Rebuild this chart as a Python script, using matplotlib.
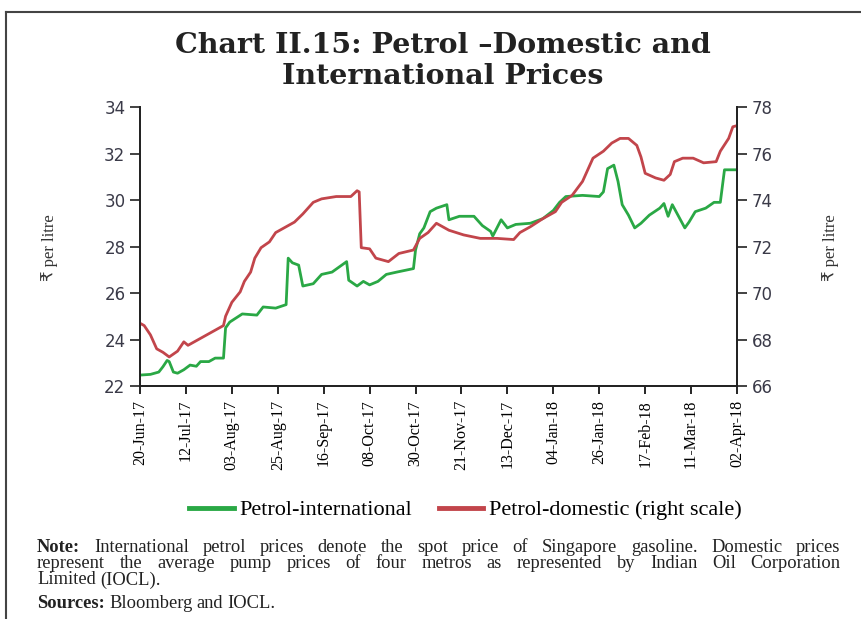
import pandas as pd
import matplotlib.pyplot as plt
import matplotlib.dates as mdates
from matplotlib.lines import Line2D

# Petrol-international (left scale, Rs per litre)
intl_dates = ['2017-06-20', '2017-06-25', '2017-06-29', '2017-07-01', '2017-07-03', '2017-07-04',
              '2017-07-06', '2017-07-08', '2017-07-11', '2017-07-14', '2017-07-17', '2017-07-19',
              '2017-07-23', '2017-07-26', '2017-07-30', '2017-07-31', '2017-08-02', '2017-08-08',
              '2017-08-15', '2017-08-18', '2017-08-24', '2017-08-29', '2017-08-30', '2017-09-01',
              '2017-09-04', '2017-09-06', '2017-09-11', '2017-09-15', '2017-09-20', '2017-09-27',
              '2017-09-28', '2017-10-02', '2017-10-05', '2017-10-08', '2017-10-12', '2017-10-16',
              '2017-10-21', '2017-10-29', '2017-10-30', '2017-11-01', '2017-11-03', '2017-11-06',
              '2017-11-09', '2017-11-14', '2017-11-15', '2017-11-20', '2017-11-27', '2017-12-01',
              '2017-12-05', '2017-12-06', '2017-12-10', '2017-12-13', '2017-12-17', '2017-12-24',
              '2017-12-30', '2018-01-04', '2018-01-07', '2018-01-10', '2018-01-18', '2018-01-26',
              '2018-01-28', '2018-01-30', '2018-02-02', '2018-02-04', '2018-02-06', '2018-02-09',
              '2018-02-12', '2018-02-15', '2018-02-19', '2018-02-24', '2018-02-26', '2018-02-28',
              '2018-03-02', '2018-03-05', '2018-03-08', '2018-03-10', '2018-03-13', '2018-03-18',
              '2018-03-22', '2018-03-25', '2018-03-27', '2018-04-02']
intl_vals = [22.47, 22.50, 22.60, 22.83, 23.10, 23.05,
             22.60, 22.55, 22.70, 22.90, 22.85, 23.05,
             23.05, 23.20, 23.20, 24.50, 24.75, 25.10,
             25.05, 25.40, 25.35, 25.50, 27.50, 27.30,
             27.20, 26.30, 26.40, 26.80, 26.90, 27.35,
             26.55, 26.30, 26.50, 26.35, 26.50, 26.80,
             26.90, 27.05, 27.85, 28.55, 28.80, 29.50,
             29.65, 29.80, 29.15, 29.30, 29.30, 28.90,
             28.65, 28.45, 29.15, 28.80, 28.95, 29.00,
             29.20, 29.55, 29.90, 30.15, 30.20, 30.15,
             30.35, 31.35, 31.50, 30.80, 29.80, 29.35,
             28.80, 29.00, 29.35, 29.65, 29.85, 29.30,
             29.80, 29.30, 28.80, 29.05, 29.50, 29.65,
             29.90, 29.90, 31.30, 31.30]

# Petrol-domestic (right scale, Rs per litre)
dom_dates = ['2017-06-20', '2017-06-22', '2017-06-25', '2017-06-28', '2017-07-01', '2017-07-04',
             '2017-07-08', '2017-07-11', '2017-07-13', '2017-07-16', '2017-07-19', '2017-07-23',
             '2017-07-26', '2017-07-30', '2017-07-31', '2017-08-03', '2017-08-07', '2017-08-09',
             '2017-08-12', '2017-08-14', '2017-08-17', '2017-08-21', '2017-08-24', '2017-08-29',
             '2017-09-02', '2017-09-06', '2017-09-11', '2017-09-15', '2017-09-22', '2017-09-29',
             '2017-10-02', '2017-10-03', '2017-10-04', '2017-10-08', '2017-10-11', '2017-10-17',
             '2017-10-22', '2017-10-29', '2017-11-01', '2017-11-05', '2017-11-09', '2017-11-15',
             '2017-11-22', '2017-11-30', '2017-12-08', '2017-12-16', '2017-12-19', '2017-12-24',
             '2017-12-30', '2018-01-05', '2018-01-08', '2018-01-13', '2018-01-18', '2018-01-23',
             '2018-01-28', '2018-02-01', '2018-02-05', '2018-02-09', '2018-02-13', '2018-02-15',
             '2018-02-17', '2018-02-22', '2018-02-26', '2018-03-01', '2018-03-03', '2018-03-07',
             '2018-03-12', '2018-03-17', '2018-03-23', '2018-03-25', '2018-03-29', '2018-03-31',
             '2018-04-02']
dom_vals = [68.70, 68.60, 68.20, 67.60, 67.45, 67.25,
            67.50, 67.90, 67.75, 67.90, 68.05, 68.25,
            68.40, 68.60, 69.00, 69.60, 70.05, 70.50,
            70.90, 71.50, 71.95, 72.20, 72.60, 72.85,
            73.05, 73.40, 73.90, 74.05, 74.15, 74.15,
            74.40, 74.35, 71.95, 71.90, 71.50, 71.35,
            71.70, 71.85, 72.35, 72.60, 73.00, 72.70,
            72.50, 72.35, 72.35, 72.30, 72.60, 72.85,
            73.20, 73.50, 73.90, 74.20, 74.80, 75.80,
            76.10, 76.45, 76.65, 76.65, 76.35, 75.85,
            75.15, 74.95, 74.85, 75.10, 75.65, 75.80,
            75.80, 75.60, 75.65, 76.10, 76.65, 77.15,
            77.20]

tick_dates = pd.date_range('2017-06-20', '2018-04-02', freq='22D')

green = '#2aa845'
red = '#c2454b'
serif = ['Liberation Serif', 'DejaVu Sans']

fig = plt.figure(figsize=(8.62, 6.19), dpi=100)
ax = fig.add_axes([0.1624, 0.3764, 0.6926, 0.4507])
ax2 = ax.twinx()

ax.plot(pd.to_datetime(intl_dates), intl_vals, color=green, lw=2.0)
ax2.plot(pd.to_datetime(dom_dates), dom_vals, color=red, lw=2.0)

ax.set_xlim(tick_dates[0], tick_dates[-1])
ax.set_ylim(22, 34)
ax2.set_ylim(66, 78)
ax.set_yticks(range(22, 35, 2))
ax2.set_yticks(range(66, 79, 2))
ax.set_xticks(tick_dates)
ax.xaxis.set_major_formatter(mdates.DateFormatter('%d-%b-%y'))

for a in (ax, ax2):
    a.spines['top'].set_visible(False)
    for s in ('left', 'right', 'bottom'):
        a.spines[s].set_linewidth(1.3)
        a.spines[s].set_color('#222222')
    a.tick_params(axis='y', length=7, width=1.2, labelsize=12, colors='#222222',
                  labelcolor='#3a3a48')
ax.tick_params(axis='x', length=6, width=1.2, labelsize=11, rotation=90, pad=4)
for lab in ax.get_xticklabels():
    lab.set_family(serif)
    lab.set_fontsize(11.5)

fig.text(0.058, 0.60, '₹ per litre', rotation=90, ha='center', va='center',
         family=serif, fontsize=12, color='#333333')
fig.text(0.963, 0.60, '₹ per litre', rotation=90, ha='center', va='center',
         family=serif, fontsize=12, color='#333333')

fig.text(0.514, 0.927, 'Chart II.15: Petrol \u2013Domestic and', ha='center', va='center',
         family='DejaVu Serif', fontweight='bold', fontsize=20.5, color='#222222')
fig.text(0.514, 0.877, 'International Prices', ha='center', va='center',
         family='DejaVu Serif', fontweight='bold', fontsize=20.5, color='#222222')

handles = [Line2D([], [], color=green, lw=3.5), Line2D([], [], color=red, lw=3.5)]
fig.legend(handles, ['Petrol-international', 'Petrol-domestic (right scale)'],
           loc='center', bbox_to_anchor=(0.540, 0.176), ncol=2, frameon=False,
           prop={'family': serif, 'size': 16}, handlelength=2.0, handletextpad=0.25,
           columnspacing=1.2)

# frame around the figure (left and top edges)
fig.add_artist(Line2D([0.007, 0.007], [0.0, 0.981], color='#444444', lw=1.5))
fig.add_artist(Line2D([0.007, 1.0], [0.981, 0.981], color='#444444', lw=1.5))

renderer = fig.canvas.get_renderer()
W = fig.bbox.width


def justified(y, words, x0, x1, justify=True, size=13.3):
    texts = []
    for w, bold in words:
        texts.append(fig.text(0, y, w, family=serif, fontsize=size, va='center',
                              fontweight='bold' if bold else 'normal', color='#222222'))
    widths = [t.get_window_extent(renderer).width / W for t in texts]
    if justify and len(texts) > 1:
        gap = (x1 - x0 - sum(widths)) / (len(texts) - 1)
    else:
        gap = 0.005
    x = x0
    for t, w in zip(texts, widths):
        t.set_x(x)
        x += w + gap


line1 = 'International petrol prices denote the spot price of Singapore gasoline. Domestic prices'
line2 = 'represent the average pump prices of four metros as represented by Indian Oil Corporation'
justified(1 - 548 / 619, [('Note:', True)] + [(w, False) for w in line1.split()], 0.043, 0.975)
justified(1 - 564 / 619, [(w, False) for w in line2.split()], 0.043, 0.975)
justified(1 - 580 / 619, [('Limited', False), ('(IOCL).', False)], 0.043, 0.975, justify=False)
justified(1 - 604 / 619, [('Sources:', True), ('Bloomberg', False), ('and', False), ('IOCL.', False)],
          0.043, 0.975, justify=False)

fig.savefig('out.png', dpi=100)
